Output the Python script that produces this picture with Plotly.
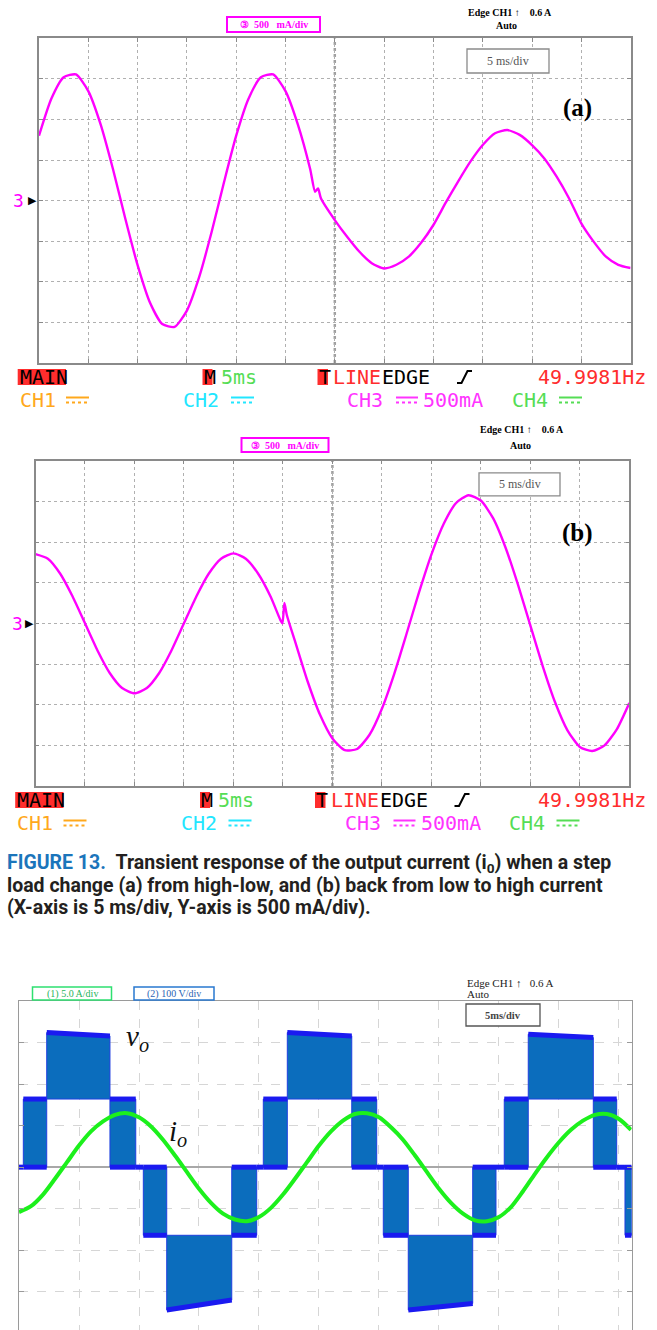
import plotly.graph_objects as go

W, H = 657, 1330

# ---------------- Fig. 13(a): CH3 output current, high -> low load step ----------------
a_time_ms = [0, 1.25, 2.5, 3.75, 5, 6.25, 7.5, 8.75, 10, 11.25, 12.5, 13.75, 15, 16.25, 17.5,
             18.75, 20, 21.25, 22.5, 23.75, 25, 26.25, 27.5, 28.0, 28.3, 28.6, 30, 31.25, 32.5,
             33.75, 35, 36.25, 37.5, 38.75, 40, 41.25, 42.5, 43.75, 45, 46.25, 47.5, 48.75, 50,
             51.25, 52.5, 53.75, 55, 56.25, 57.5, 58.75, 60]
a_current_A = [0.80, 1.255, 1.52, 1.555, 1.35, 0.94, 0.39, -0.22, -0.795, -1.255, -1.52, -1.555,
               -1.355, -0.94, -0.39, 0.22, 0.80, 1.255, 1.52, 1.555, 1.35, 0.94, 0.39, 0.11, 0.15,
               0.025, -0.24, -0.445, -0.63, -0.77, -0.835, -0.79, -0.69, -0.52, -0.30, -0.025,
               0.235, 0.48, 0.685, 0.83, 0.87, 0.81, 0.685, 0.52, 0.295, 0.03, -0.28, -0.505,
               -0.69, -0.79, -0.83]

# ---------------- Fig. 13(b): CH3 output current, low -> high load step ----------------
b_time_ms = [0, 1.25, 2.5, 3.75, 5, 6.25, 7.5, 8.75, 10, 11.25, 12.5, 13.75, 15, 16.25, 17.5,
             18.75, 20, 21.25, 22.5, 23.75, 24.75, 24.95, 25.15, 25.4, 26.25, 27.5, 28.75, 30,
             31.25, 32.5, 33.75, 35, 36.25, 37.5, 38.75, 40, 41.25, 42.5, 43.75, 45, 46.25, 47.5,
             48.75, 50, 51.25, 52.5, 53.75, 55, 56.25, 57.5, 58.75, 60]
b_current_A = [0.85, 0.795, 0.61, 0.33, 0.0, -0.33, -0.61, -0.795, -0.86, -0.795, -0.61, -0.33,
               0.0, 0.33, 0.61, 0.795, 0.86, 0.795, 0.61, 0.33, 0.04, 0.0, 0.25, 0.10, -0.23,
               -0.715, -1.125, -1.415, -1.56, -1.545, -1.37, -1.05, -0.62, -0.125, 0.38, 0.845,
               1.225, 1.48, 1.575, 1.51, 1.29, 0.93, 0.475, -0.025, -0.525, -0.97, -1.315, -1.52,
               -1.57, -1.5, -1.3, -0.98]

# ---------------- Multilevel inverter: output voltage v_o and current i_o ----------------
# each v_o segment is PWM between a base level and a peak level (V)
vo_t_start = [0.00, 0.36, 2.31, 7.58, 9.73, 10.36, 12.31, 17.73, 19.81, 20.36, 22.36, 27.73,
              29.81, 30.36, 32.44, 37.81, 39.75, 40.44, 42.44, 47.86, 49.81, 50.50]
vo_t_end = [0.36, 2.31, 7.58, 9.73, 10.36, 12.31, 17.73, 19.81, 20.36, 22.36, 27.73, 29.81,
            30.36, 32.44, 37.81, 39.75, 40.44, 42.44, 47.86, 49.81, 50.50, 51.06]
vo_base_V = [0, 0, 164, 0, 0, 0, -164, 0, 0, 0, 164, 0, 0, 0, -164, 0, 0, 0, 164, 0, 0, 0]
vo_peak_start_V = [0, 164, 324, 164, 0, -164, -344, -164, 0, 164, 324, 164, 0, -164, -344, -164,
                   0, 164, 320, 164, 0, -164]
vo_peak_end_V = [0, 164, 316, 164, 0, -164, -320, -164, 0, 164, 316, 164, 0, -164, -328, -164,
                 0, 164, 312, 164, 0, -164]

io_time_ms = [0, 1, 2, 3, 4, 5, 6, 7, 8, 9, 10, 11, 12, 13, 14, 15, 16, 17, 18, 19, 20, 21, 22,
              23, 24, 25, 26, 27, 28, 29, 30, 31, 32, 33, 34, 35, 36, 37, 38, 39, 40, 41, 42, 43,
              44, 45, 46, 47, 48, 49, 50, 51]
io_current_A = [-5.4, -4.7, -3.3, -1.4, 0.6, 2.6, 4.3, 5.5, 6.3, 6.5, 6.0, 4.9, 3.3, 1.4, -0.6,
                -2.6, -4.3, -5.6, -6.3, -6.5, -6.0, -4.9, -3.3, -1.4, 0.6, 2.6, 4.3, 5.6, 6.4,
                6.5, 6.0, 4.8, 3.3, 1.4, -0.6, -2.6, -4.3, -5.6, -6.4, -6.5, -6.0, -4.8, -2.9,
                -0.8, 1.2, 3.0, 4.5, 5.6, 6.3, 6.4, 5.8, 4.5]


def px(x):
    return x / W


def py(y):
    return 1 - y / H


MAGENTA = "#ff00ff"
SERIF = "Liberation Serif"
MONO = "DejaVu Sans Mono"

fig = go.Figure()

# scope traces
fig.add_trace(go.Scatter(x=a_time_ms, y=a_current_A, mode="lines", xaxis="x", yaxis="y",
                         line=dict(color=MAGENTA, width=2.4, shape="spline", smoothing=0.6),
                         hoverinfo="skip"))
fig.add_trace(go.Scatter(x=b_time_ms, y=b_current_A, mode="lines", xaxis="x2", yaxis="y2",
                         line=dict(color=MAGENTA, width=2.4, shape="spline", smoothing=0.6),
                         hoverinfo="skip"))

# v_o PWM blocks (filled between base and peak) and their level edges
fx, fy, ex, ey = [], [], [], []
for t0, t1, vb, v0, v1 in zip(vo_t_start, vo_t_end, vo_base_V, vo_peak_start_V, vo_peak_end_V):
    if v0 != vb:
        fx += [t0, t1, t1, t0, t0, None]
        fy += [vb, vb, v1, v0, vb, None]
    ex += [t0, t1, None]
    ey += [v0, v1, None]
    if vb == 0 and v0 != 0:
        ex += [t0, t1, None]
        ey += [0, 0, None]

fig.add_trace(go.Scatter(x=fx, y=fy, mode="lines", fill="toself", fillcolor="#0b6dbd",
                         line=dict(color="#1f3fe0", width=1), xaxis="x3", yaxis="y3",
                         hoverinfo="skip", connectgaps=False))
fig.add_trace(go.Scatter(x=ex, y=ey, mode="lines", line=dict(color="#1a1af0", width=5),
                         xaxis="x3", yaxis="y3", hoverinfo="skip", connectgaps=False))
fig.add_trace(go.Scatter(x=io_time_ms, y=io_current_A, mode="lines", xaxis="x3", yaxis="y4",
                         line=dict(color="#1cf01c", width=4, shape="spline", smoothing=0.8),
                         hoverinfo="skip"))

scope_axis = dict(showgrid=True, griddash="dot", gridcolor="#b0b0b0", gridwidth=1,
                  showline=True, linecolor="#8a8a8a", linewidth=1.5, mirror="ticks",
                  ticks="inside", ticklen=4, tickcolor="#8a8a8a", showticklabels=False,
                  zeroline=False, fixedrange=True)

layout = dict(
    width=W, height=H, margin=dict(l=0, r=0, t=0, b=0),
    paper_bgcolor="white", plot_bgcolor="white", showlegend=False,
    xaxis=dict(domain=[px(39), px(630.6)], range=[0, 60], dtick=5, tick0=0, anchor="y", **scope_axis),
    yaxis=dict(domain=[py(363), py(38.3)], range=[-2, 2], dtick=0.5, tick0=0, anchor="x", **scope_axis),
    xaxis2=dict(domain=[px(35.5), px(629.3)], range=[0, 60], dtick=5, tick0=0, anchor="y2", **scope_axis),
    yaxis2=dict(domain=[py(786), py(460.7)], range=[-2, 2], dtick=0.5, tick0=0, anchor="x2", **scope_axis),
    xaxis3=dict(domain=[px(19), px(631.7)], range=[0, 51.06], dtick=5, tick0=0, anchor="y3",
                side="top", showgrid=True, griddash="dash", gridcolor="#d6d6d6", gridwidth=1,
                showline=True, linecolor="#9a9a9a", linewidth=1.2, ticks="", showticklabels=False,
                zeroline=False, fixedrange=True),
    yaxis3=dict(domain=[0, py(1001)], range=[-392, 400], dtick=100, tick0=0, anchor="x3",
                showgrid=True, griddash="dash", gridcolor="#d6d6d6", gridwidth=1,
                showline=True, linecolor="#9a9a9a", linewidth=1.2, mirror="ticks",
                ticks="inside", ticklen=5, tickcolor="#9a9a9a", showticklabels=False,
                zeroline=True, zerolinecolor="#a8a8a8", zerolinewidth=1.5, fixedrange=True),
    yaxis4=dict(overlaying="y3", anchor="x3", range=[-19.6, 20], visible=False,
                showgrid=False, zeroline=False, fixedrange=True),
)
fig.update_layout(**layout)

shapes = []
annotations = []


def text(x, y, s, size, color, family, xanchor="left"):
    annotations.append(dict(x=px(x), y=py(y), xref="paper", yref="paper", text=s,
                            showarrow=False, xanchor=xanchor, yanchor="middle",
                            font=dict(size=size, color=color, family=family)))


def frame(x0, x1, y0, y1, color, width=1.5):
    shapes.append(dict(type="rect", xref="paper", yref="paper", x0=px(x0), x1=px(x1),
                       y0=py(y1), y1=py(y0), line=dict(color=color, width=width),
                       fillcolor="white", layer="above"))


def boxed(cx, cy, w, h, s, size, color, family, border, bw=1.5):
    frame(cx - w / 2, cx + w / 2, cy - h / 2, cy + h / 2, border, bw)
    text(cx, cy, s, size, color, family, "center")


def hline(x0, x1, y, color, width=1.5, dash="solid"):
    shapes.append(dict(type="line", xref="paper", yref="paper", x0=px(x0), x1=px(x1),
                       y0=py(y), y1=py(y), line=dict(color=color, width=width, dash=dash)))


def rect(x0, x1, y0, y1, color):
    shapes.append(dict(type="rect", xref="paper", yref="paper", x0=px(x0), x1=px(x1),
                       y0=py(y1), y1=py(y0), fillcolor=color, line=dict(width=0), layer="above"))


def dc_symbol(x0, x1, y, color):
    hline(x0, x1, y - 2.5, color, 2)
    hline(x0, x1, y + 2.5, color, 2, "dot")


def slope(x0, x1, y, color="black"):
    xa, xb = x0 + (x1 - x0) * 0.3, x0 + (x1 - x0) * 0.7
    path = "M {} {} L {} {} L {} {} L {} {}".format(
        px(x0), py(y + 6), px(xa), py(y + 6), px(xb), py(y - 6), px(x1), py(y - 6))
    shapes.append(dict(type="path", xref="paper", yref="paper", path=path,
                       line=dict(color=color, width=2)))


NB = "\u00a0"

# trigger-position centre line on both scope screens
for xr, yr in (("x", "y"), ("x2", "y2")):
    shapes.append(dict(type="line", xref=xr, yref=yr, x0=30, x1=30, y0=-2, y1=2,
                       line=dict(color="#a0a0a0", width=2.5, dash="dot"), layer="below"))

# ---- headers of the two scope screens
for (cx, cy, w, h), (ex_, ey_), (ax_, ay_), (bx, by, bw_, bh_), (lx, ly, lab) in [
        ((273.5, 24.5, 93, 15), (510, 12), (506, 25), (508, 61, 82, 24), (577, 108, "(a)")),
        ((285, 445, 87, 14), (522, 430), (520, 445), (519.5, 484.3, 81, 23), (577, 533, "(b)"))]:
    boxed(cx, cy, w, h, "<b>\u2462" + NB * 2 + "500" + NB * 3 + "mA/div</b>", 10, MAGENTA, SERIF,
          MAGENTA, 2)
    text(ex_, ey_, "<b>Edge CH1 \u2191" + NB * 4 + "0.6 A</b>", 10, "black", SERIF, "center")
    text(ax_, ay_, "<b>Auto</b>", 10, "black", SERIF, "center")
    boxed(bx, by, bw_, bh_, "5 ms/div", 12, "#555555", SERIF, "#8a8a8a", 1.3)
    text(lx, ly, "<b>" + lab + "</b>", 25, "black", SERIF, "center")

# channel-3 ground markers
text(18.5, 200.5, "3", 18, MAGENTA, MONO, "center")
text(32, 200.5, "\u25b6", 11, "black", "DejaVu Sans", "center")
text(17, 623.3, "3", 18, MAGENTA, MONO, "center")
text(29.5, 623.3, "\u25b6", 11, "black", "DejaVu Sans", "center")

# ---- status lines below the scope screens
RED, GRN, ORG, CYA, MAG = "#ff2d2d", "#55dd55", "#ffa81c", "#22e6ff", "#ff33ff"
for y1, y2, dx in [(377, 400, 0.0), (800, 823, -2.5)]:
    rect(17.7 + dx, 66 + dx, y1 - 8, y1 + 8, RED)
    text(17.7 + dx, y1, "MAIN", 20, "black", MONO)
    rect(202.5 + dx, 212.5 + dx, y1 - 8, y1 + 8, RED)
    text(201.5 + dx, y1, "M", 20, "black", MONO)
    text(218.5 + dx, y1, "5ms", 20, GRN, MONO)
    rect(317.5 + dx, 328 + dx, y1 - 8, y1 + 8, RED)
    text(316.5 + dx, y1, "T", 20, "black", MONO)
    text(331 + dx, y1, "LINE", 20, RED, MONO)
    text(380 + dx, y1, "EDGE", 20, "black", MONO)
    slope(457 + dx, 472 + dx, y1)
    text(535.5, y1, "49.9981Hz", 20, RED, MONO)

    text(17.7 + dx, y2, "CH1", 20, ORG, MONO)
    dc_symbol(66 + dx, 89 + dx, y2, ORG)
    text(181 + dx, y2, "CH2", 20, CYA, MONO)
    dc_symbol(231 + dx, 254 + dx, y2, CYA)
    text(345 + dx, y2, "CH3", 20, MAG, MONO)
    dc_symbol(396 + dx, 418 + dx, y2, MAG)
    text(421 + dx, y2, "500mA", 20, MAG, MONO)
    text(509.5 + dx, y2, "CH4", 20, GRN, MONO)
    dc_symbol(559 + dx, 582 + dx, y2, GRN)

# ---- figure caption
CAP = "Roboto"
text(5, 863, "<b><span style='color:#1b75bb'>FIGURE 13.</span>" + NB * 2 +
     "Transient response of the output current (i<sub>0</sub>) when a step</b>", 19.5, "#231f20", CAP)
text(5, 885, "<b>load change (a) from high-low, and (b) back from low to high current</b>",
     19.5, "#231f20", CAP)
text(5, 907, "<b>(X-axis is 5 ms/div, Y-axis is 500 mA/div).</b>", 19.5, "#231f20", CAP)

# ---- header of the inverter waveform plot
boxed(72, 993.5, 79, 13, "(1) 5.0 A/div", 10, "#26b45a", SERIF, "#2ee070", 1.5)
boxed(174, 993.5, 80, 13, "(2) 100 V/div", 10, "#2a64b4", SERIF, "#2878d0", 1.5)
text(465, 982.7, "Edge CH1 \u2191" + NB * 3 + "0.6 A", 11, "#222222", SERIF)
text(465, 994.3, "Auto", 11, "#222222", SERIF)
boxed(503, 1015, 74, 22, "<b>5ms/div</b>", 10.5, "#444444", SERIF, "#555555", 1.3)
text(137, 1038, "<i>v<sub>o</sub></i>", 29, "#111111", SERIF, "center")
text(178, 1133, "<i>i<sub>o</sub></i>", 29, "#111111", SERIF, "center")

fig.update_layout(shapes=shapes, annotations=annotations)
fig.write_html("out.html")
